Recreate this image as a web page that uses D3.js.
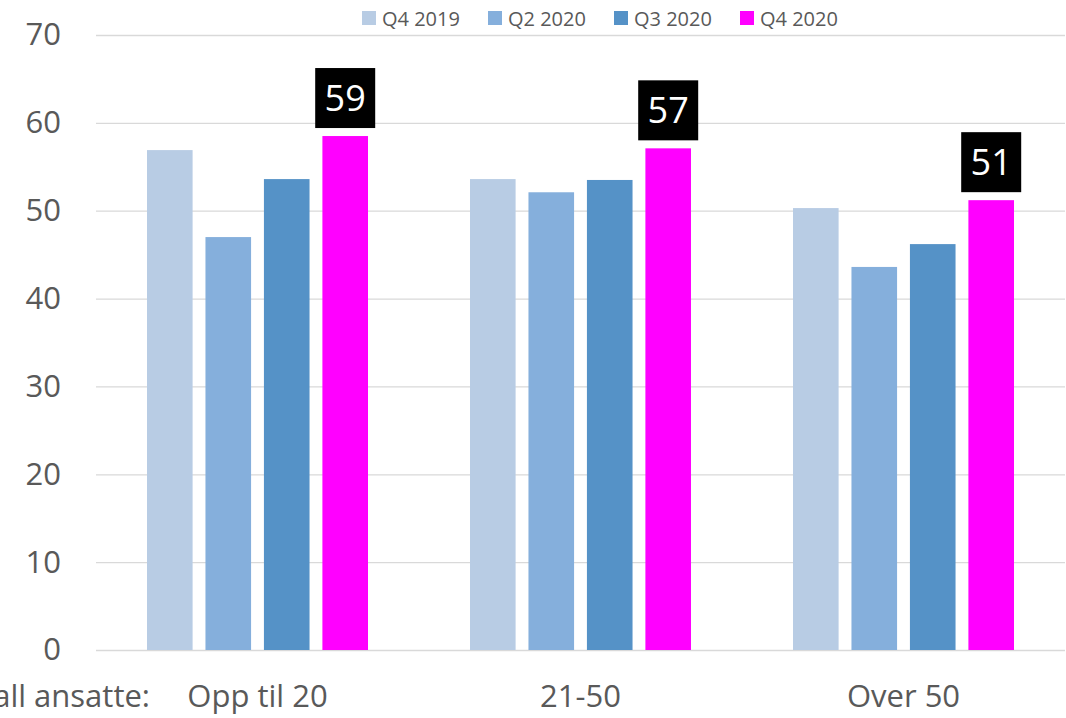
<!DOCTYPE html>
<html>
<head>
<meta charset="utf-8">
<script src="https://cdn.jsdelivr.net/npm/d3@7"></script>
<style>
  body { margin: 0; background: #fff; }
  svg { display: block; font-family: "Open Sans", sans-serif; }
  .axis text { fill: #595959; }
  .grid line { stroke: #d9d9d9; stroke-width: 1.3; }
</style>
</head>
<body>
<svg></svg>
<script>
// Chart data
const categories = ["Opp til 20", "21-50", "Over 50"]
const series = ["Q4 2019", "Q2 2020", "Q3 2020", "Q4 2020"]
const q4_2019 = [56.9, 53.6, 50.3]
const q2_2020 = [47.0, 52.1, 43.6]
const q3_2020 = [53.6, 53.5, 46.2]
const q4_2020 = [58.5, 57.1, 51.2]
const labels = ["59", "57", "51"]
const yTicks = [0, 10, 20, 30, 40, 50, 60, 70]
const colors = ["#b8cce4", "#85afdc", "#5592c7", "#ff00ff"]

const width = 1066, height = 718
const plot = { left: 96, right: 1065, top: 35, bottom: 650 }

const values = [q4_2019, q2_2020, q3_2020, q4_2020]
const rows = categories.map((c, i) => ({ cat: c, vals: series.map((s, j) => ({ s, v: values[j][i] })) }))

const svg = d3.select('svg').attr("width", width).attr("height", height)

const x0 = d3.scaleBand().domain(categories).range([plot.left, plot.right])
const x1 = d3.scaleBand().domain(series).range([51, x0.bandwidth() - 51]).paddingInner(0.22)
const y = d3.scaleLinear().domain([0, 70]).range([plot.bottom, plot.top])
const color = d3.scaleOrdinal().domain(series).range(colors)

// Gridlines
svg.append("g").attr("class", "grid")
    .attr("transform", `translate(${plot.left}, 0)`)
    .call(d3.axisRight(y).tickValues(yTicks).tickSize(plot.right - plot.left).tickFormat(""))
    .call(g => g.select(".domain").remove())

// Y axis labels
svg.append("g").attr("class", "axis y")
    .attr("transform", `translate(${plot.left}, 0)`)
    .call(d3.axisLeft(y).tickValues(yTicks).tickSize(0).tickPadding(35))
    .attr("font-family", null).attr("font-size", 31)
    .call(g => g.select(".domain").remove())

// X axis labels
svg.append("g").attr("class", "axis x")
    .attr("transform", `translate(0, ${plot.bottom})`)
    .call(d3.axisBottom(x0).tickSize(0).tickPadding(35))
    .attr("font-family", null).attr("font-size", 31)
    .call(g => g.select(".domain").remove())

svg.append("text")
    .attr("x", 150).attr("y", 707)
    .attr("text-anchor", "end")
    .style("font-size", "31px").attr("fill", "#595959")
    .text("Antall ansatte:")

// Bars
const groups = svg.append("g").selectAll("g")
    .data(rows)
    .join("g")
    .attr("transform", d => `translate(${x0(d.cat)}, 0)`)

groups.selectAll("rect")
    .data(d => d.vals)
    .join("rect")
    .attr("x", d => x1(d.s))
    .attr("y", d => y(d.v))
    .attr("width", x1.bandwidth())
    .attr("height", d => y(0) - y(d.v))
    .attr("fill", d => color(d.s))

// Data labels on the last series
const boxSize = 60
const lastSeries = series[series.length - 1]
groups.each(function (d, i) {
    const g = d3.select(this)
    const v = d.vals.find(e => e.s === lastSeries).v
    const cx = x1(lastSeries) + x1.bandwidth() / 2
    const bottom = y(v) - 8
    g.append("rect")
        .attr("x", cx - boxSize / 2).attr("y", bottom - boxSize)
        .attr("width", boxSize).attr("height", boxSize)
        .attr("fill", "#000")
    g.append("text")
        .attr("x", cx).attr("y", bottom - boxSize / 2)
        .attr("dy", "0.36em")
        .attr("text-anchor", "middle")
        .style("font-size", "36px").attr("fill", "#fff")
        .text(labels[i])
})

// Legend
const legend = svg.append("g").selectAll("g")
    .data(series)
    .join("g")
    .attr("transform", (d, i) => `translate(${362 + i * 126}, 11)`)

legend.append("rect").attr("width", 14).attr("height", 14).attr("fill", d => color(d))
legend.append("text")
    .attr("x", 20).attr("y", 14.5)
    .style("font-size", "20px").attr("fill", "#595959")
    .text(d => d)
</script>
</body>
</html>
